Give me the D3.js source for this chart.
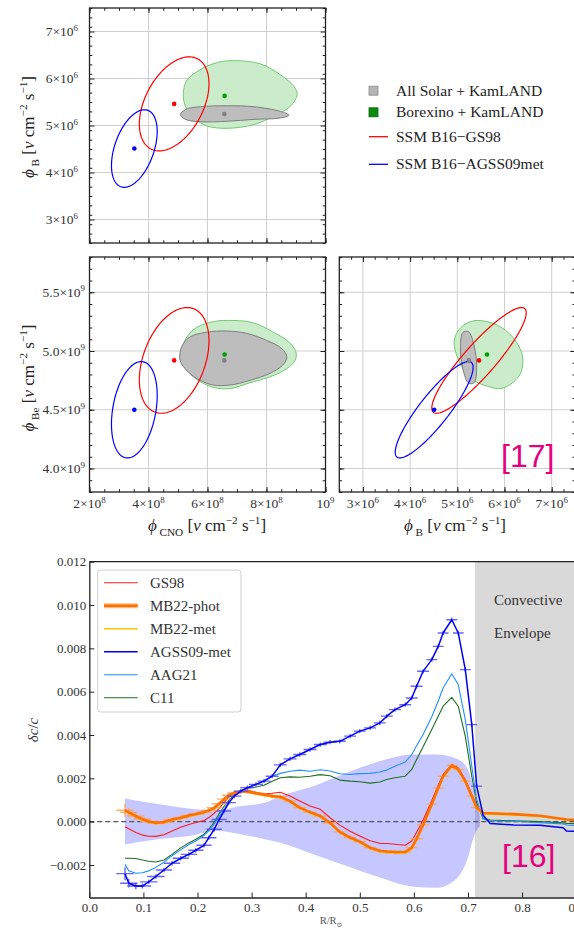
<!DOCTYPE html>
<html>
<head>
<meta charset="utf-8">
<script src="https://cdn.jsdelivr.net/npm/d3@7"></script>
<style>
  body { margin: 0; background: #fff; }
  svg { display: block; }
</style>
</head>
<body>
<svg id="chart" width="574" height="928"></svg>
<script>
// ---------------------------------------------------------------
// Solar neutrino fluxes: SSM predictions vs. global fits
// ---------------------------------------------------------------
const modelNames = ["SSM B16\u2212GS98", "SSM B16\u2212AGSS09met"];
const modelCNO = [4.87e8, 3.52e8];
const modelB = [5.46e6, 4.51e6];
const modelBe = [4.92e9, 4.50e9];
const modelSigCNO = [1.18e8, 0.775e8];
const modelSigB = [1.0e6, 0.825e6];
const modelSigBe = [0.45e9, 0.41e9];
const modelRhoCnoB = [0.43, 0.44];
const modelRhoCnoBe = [0.37, 0.30];
const modelRhoBBe = [0.90, 0.88];

const fitNames = ["All Solar + KamLAND", "Borexino + KamLAND"];
const fitCNO = [6.57e8, 6.58e8];
const fitB = [5.245e6, 5.63e6];
const fitBe = [4.92e9, 4.97e9];

// allowed regions, [CNO, B]
const allSolarCnoB = [[5.08e8,5.23e6],[5.25e8,5.34e6],[5.76e8,5.40e6],[6.67e8,5.42e6],[7.57e8,5.40e6],[8.47e8,5.30e6],[8.76e8,5.22e6],[8.47e8,5.16e6],[7.57e8,5.13e6],[6.67e8,5.09e6],[5.76e8,5.08e6],[5.25e8,5.13e6]];
const borexinoCnoB = [[5.18e8,5.69e6],[5.31e8,5.97e6],[5.76e8,6.19e6],[6.33e8,6.34e6],[6.89e8,6.38e6],[7.80e8,6.31e6],[8.47e8,6.08e6],[8.93e8,5.83e6],[9.04e8,5.66e6],[8.81e8,5.41e6],[8.25e8,5.20e6],[7.57e8,5.02e6],[6.67e8,4.94e6],[5.99e8,4.99e6],[5.54e8,5.16e6],[5.25e8,5.41e6]];
// allowed regions, [CNO, Be]
const allSolarCnoBe = [[5.07e8,4.92e9],[5.13e8,5.04e9],[5.41e8,5.12e9],[5.97e8,5.16e9],[6.65e8,5.17e9],[7.33e8,5.15e9],[8.01e8,5.09e9],[8.52e8,5.02e9],[8.69e8,4.95e9],[8.55e8,4.88e9],[8.12e8,4.81e9],[7.44e8,4.75e9],[6.76e8,4.71e9],[6.20e8,4.71e9],[5.75e8,4.75e9],[5.35e8,4.82e9]];
const borexinoCnoBe = [[5.13e8,5.01e9],[5.30e8,5.12e9],[5.63e8,5.20e9],[6.20e8,5.25e9],[6.87e8,5.26e9],[7.55e8,5.24e9],[8.23e8,5.16e9],[8.74e8,5.08e9],[9.00e8,4.99e9],[8.97e8,4.92e9],[8.69e8,4.85e9],[8.12e8,4.78e9],[7.44e8,4.73e9],[6.76e8,4.68e9],[6.20e8,4.69e9],[5.75e8,4.74e9],[5.35e8,4.82e9],[5.13e8,4.91e9]];
// allowed regions, [B, Be]
const allSolarBBe = [[5.41e6,4.863e9],[5.358e6,5.042e9],[5.238e6,5.164e9],[5.118e6,5.158e9],[5.068e6,5.027e9],[5.118e6,4.848e9],[5.238e6,4.726e9],[5.358e6,4.732e9]];
const borexinoBBe = [[4.93e6,5.07e9],[5.00e6,5.16e9],[5.17e6,5.23e9],[5.42e6,5.26e9],[5.85e6,5.22e9],[6.17e6,5.12e9],[6.34e6,5.01e9],[6.39e6,4.92e9],[6.34e6,4.81e9],[6.17e6,4.73e9],[5.92e6,4.68e9],[5.64e6,4.70e9],[5.35e6,4.75e9],[5.14e6,4.84e9],[5.00e6,4.95e9]];

const cnoTicks = [2e8, 4e8, 6e8, 8e8, 1e9];
const cnoTickLabels = ["2\u00d710^8", "4\u00d710^8", "6\u00d710^8", "8\u00d710^8", "10^9"];
const bTicks = [3e6, 4e6, 5e6, 6e6, 7e6];
const bTickLabels = ["3\u00d710^6", "4\u00d710^6", "5\u00d710^6", "6\u00d710^6", "7\u00d710^6"];
const beTicks = [4.0e9, 4.5e9, 5.0e9, 5.5e9];
const beTickLabels = ["4.0\u00d710^9", "4.5\u00d710^9", "5.0\u00d710^9", "5.5\u00d710^9"];

// ---------------------------------------------------------------
// Helioseismic sound-speed differences
// ---------------------------------------------------------------
const radius = [0.066,0.073,0.086,0.098,0.110,0.123,0.138,0.153,0.169,0.184,0.197,0.212,0.221,0.231,0.240,0.249,0.258,0.268,0.280,0.292,0.308,0.323,0.338,0.353,0.371,0.389,0.408,0.427,0.445,0.463,0.482,0.500,0.519,0.537,0.550,0.565,0.584,0.596,0.605,0.617,0.633,0.645,0.654,0.670,0.682,0.695,0.707,0.716,0.728,0.741,0.784,0.833,0.876,0.882,0.940,1.000];
const gs98 = [-0.00023,-0.00033,-0.00050,-0.00062,-0.00067,-0.00068,-0.00060,-0.00043,-0.00026,-0.00013,-0.00004,0.00005,0.00019,0.00039,0.00061,0.00088,0.00113,0.00131,0.00142,0.00146,0.00136,0.00128,0.00131,0.00136,0.00118,0.00095,0.00072,0.00057,0.00018,-0.00016,-0.00044,-0.00066,-0.00088,-0.00100,-0.00101,-0.00104,-0.00109,-0.00089,-0.00049,0.00008,0.00097,0.00168,0.00218,0.00264,0.00249,0.00195,0.00126,0.00072,0.00038,0.00036,0.00033,0.00026,0.00012,0.00010,0.00003,0.00000];
const mb22phot = [0.00053,0.00043,0.00026,0.00012,0.00001,-0.00005,-0.00002,0.00010,0.00018,0.00029,0.00035,0.00044,0.00052,0.00064,0.00083,0.00104,0.00122,0.00133,0.00139,0.00139,0.00131,0.00125,0.00118,0.00115,0.00095,0.00065,0.00044,0.00026,-0.00005,-0.00047,-0.00073,-0.00092,-0.00120,-0.00134,-0.00138,-0.00140,-0.00140,-0.00120,-0.00079,-0.00015,0.00081,0.00155,0.00210,0.00260,0.00241,0.00187,0.00118,0.00065,0.00040,0.00039,0.00035,0.00027,0.00012,0.00010,0.00004,0.00000];
const mb22met = [0.00048,0.00038,0.00021,0.00007,-0.00004,-0.00010,-0.00007,0.00005,0.00013,0.00024,0.00030,0.00039,0.00047,0.00059,0.00078,0.00099,0.00118,0.00130,0.00136,0.00136,0.00128,0.00121,0.00114,0.00110,0.00090,0.00060,0.00039,0.00021,-0.00010,-0.00052,-0.00078,-0.00097,-0.00125,-0.00140,-0.00144,-0.00146,-0.00146,-0.00127,-0.00086,-0.00020,0.00076,0.00150,0.00205,0.00254,0.00236,0.00182,0.00113,0.00060,0.00036,0.00035,0.00031,0.00024,0.00010,0.00008,0.00002,-0.00002];
const agss09met = [-0.00240,-0.00284,-0.00297,-0.00297,-0.00278,-0.00253,-0.00223,-0.00192,-0.00169,-0.00151,-0.00132,-0.00109,-0.00074,-0.00035,0.00010,0.00049,0.00088,0.00118,0.00141,0.00157,0.00172,0.00187,0.00210,0.00262,0.00290,0.00310,0.00333,0.00356,0.00367,0.00371,0.00395,0.00418,0.00433,0.00456,0.00487,0.00517,0.00540,0.00571,0.00625,0.00694,0.00748,0.00809,0.00871,0.00932,0.00871,0.00702,0.00448,0.00164,0.00030,-0.00008,-0.00015,-0.00017,-0.00028,-0.00043,-0.00046,-0.00050];
const aag21 = [-0.00197,-0.00227,-0.00238,-0.00236,-0.00227,-0.00211,-0.00187,-0.00157,-0.00130,-0.00105,-0.00089,-0.00063,-0.00042,-0.00010,0.00023,0.00057,0.00090,0.00118,0.00141,0.00155,0.00172,0.00190,0.00210,0.00223,0.00233,0.00238,0.00233,0.00240,0.00234,0.00221,0.00218,0.00222,0.00223,0.00229,0.00238,0.00256,0.00275,0.00310,0.00350,0.00402,0.00484,0.00557,0.00617,0.00683,0.00633,0.00471,0.00256,0.00103,0.00012,0.00003,0.00002,-0.00005,-0.00010,-0.00015,-0.00025,-0.00030];
const c11 = [-0.00169,-0.00169,-0.00170,-0.00177,-0.00183,-0.00186,-0.00177,-0.00151,-0.00121,-0.00098,-0.00081,-0.00058,-0.00035,-0.00002,0.00037,0.00070,0.00099,0.00126,0.00145,0.00153,0.00160,0.00168,0.00187,0.00203,0.00207,0.00205,0.00210,0.00217,0.00212,0.00192,0.00187,0.00184,0.00178,0.00183,0.00195,0.00203,0.00210,0.00241,0.00287,0.00346,0.00425,0.00487,0.00533,0.00574,0.00533,0.00394,0.00210,0.00088,0.00015,0.00008,0.00004,0.00000,-0.00005,-0.00008,-0.00012,-0.00015];
// inversion resolution (half-width in r) and error at each inverted point
const resHalfWidth = [0.016,0.016,0.016,0.016,0.016,0.016,0.015,0.015,0.015,0.015,0.014,0.014,0.014,0.014,0.014,0.013,0.013,0.013,0.013,0.013,0.013,0.012,0.012,0.012,0.012,0.012,0.012,0.012,0.012,0.011,0.011,0.011,0.011,0.011,0.011,0.011,0.011,0.011,0.011,0.011,0.010,0.010,0.010,0.010,0.010,0.010,0.010,0.010];
const invErr = [0.00030,0.00020,0.00015,0.00012,0.00010,0.00010,0.00010,0.00010,0.00010,0.00010,0.00010,0.00010,0.00010,0.00010,0.00010,0.00010,0.00010,0.00010,0.00010,0.00010,0.00010,0.00010,0.00010,0.00010,0.00010,0.00010,0.00010,0.00010,0.00010,0.00010,0.00010,0.00010,0.00010,0.00010,0.00010,0.00010,0.00010,0.00010,0.00010,0.00010,0.00010,0.00010,0.00010,0.00010,0.00010,0.00010,0.00010,0.00010];
// model uncertainty band
const bandR = [0.066,0.123,0.184,0.235,0.280,0.326,0.353,0.414,0.476,0.537,0.599,0.642,0.679,0.700,0.710,0.716,0.722];
const bandHi = [0.00107,0.00083,0.00061,0.00052,0.00072,0.00088,0.00118,0.00164,0.00226,0.00279,0.00310,0.00310,0.00290,0.00240,0.00160,0.00090,0.00025];
const bandLo = [-0.00105,-0.00082,-0.00066,-0.00043,-0.00058,-0.00082,-0.00097,-0.00150,-0.00205,-0.00258,-0.00300,-0.00305,-0.00262,-0.00165,-0.00075,-0.00040,-0.00020];
const convectiveBase = 0.713;
const soundTicksY = [-0.002, 0.000, 0.002, 0.004, 0.006, 0.008, 0.010, 0.012];
const soundTicksX = [0.0, 0.1, 0.2, 0.3, 0.4, 0.5, 0.6, 0.7, 0.8, 0.9];
const seriesNames = ["GS98", "MB22-phot", "MB22-met", "AGSS09-met", "AAG21", "C11"];

// ---------------------------------------------------------------
const svg = d3.select("#chart");
const serif = "'Liberation Serif','Times New Roman','DejaVu Serif',serif";
const sans = "'Liberation Sans',Arial,sans-serif";
const refColor = "#e5007e";

function richText(sel, parts, size) {
  let shift = 0;
  parts.forEach(([t, kind]) => {
    const target = kind === "sub" ? size * 0.3 : kind === "sup" ? -size * 0.4 : 0;
    sel.append("tspan")
      .attr("dy", (target - shift).toFixed(2))
      .attr("font-size", kind === "sub" || kind === "sup" ? size * 0.66 : size)
      .attr("font-style", kind === "i" ? "italic" : null)
      .text(t);
    shift = target;
  });
}
function powerLabel(g, x, y, label, anchor, size) {
  const [base, exp] = label.split("^");
  const t = g.append("text").attr("x", x).attr("y", y)
    .attr("text-anchor", anchor).attr("font-family", serif).attr("fill", "#333");
  richText(t, [[base, ""], [exp, "sup"]], size);
}
const fluxTitle = (sub) => [["\u03d5", "i"], [" " + sub, "sub"], [" [", ""], ["\u03bd", "i"], [" cm", ""], ["\u22122", "sup"], [" s", ""], ["\u22121", "sup"], ["]", ""]];

const flux = { cno: modelCNO, b: modelB, be: modelBe };
const sig = { cno: modelSigCNO, b: modelSigB, be: modelSigBe };
const rho = { "cno-b": modelRhoCnoB, "cno-be": modelRhoCnoBe, "b-be": modelRhoBBe };
const fitFlux = { cno: fitCNO, b: fitB, be: fitBe };
const modelColors = ["#ff0000", "#0000ff"];
const fitFill = ["#bdbdbd", "#cbeccb"];
const fitStroke = ["#7d7d7d", "#72c872"];
const fitDot = ["#808080", "#00a000"];

const panels = [
  { id: "tl", x0: 89.5, x1: 325.5, y0: 8, y1: 243, xDom: [2e8, 1e9], yDom: [2.5e6, 7.5e6],
    xk: "cno", yk: "b", xMinor: 0.5e8, yMinor: 0.2e6, xt: cnoTicks, yt: bTicks, xl: null, yl: bTickLabels, yLabelX: 78,
    regions: [borexinoCnoB, allSolarCnoB] },
  { id: "ml", x0: 89.5, x1: 325.5, y0: 257, y1: 492, xDom: [2e8, 1e9], yDom: [3.8e9, 5.8e9],
    xk: "cno", yk: "be", xMinor: 0.5e8, yMinor: 0.1e9, xt: cnoTicks, yt: beTicks, xl: cnoTickLabels, yl: beTickLabels, yLabelX: 85,
    regions: [borexinoCnoBe, allSolarCnoBe] },
  { id: "mr", x0: 339.3, x1: 575.3, y0: 257, y1: 492, xDom: [2.5e6, 7.5e6], yDom: [3.8e9, 5.8e9],
    xk: "b", yk: "be", xMinor: 0.25e6, yMinor: 0.1e9, xt: bTicks, yt: beTicks, xl: bTickLabels, yl: null,
    regions: [borexinoBBe, allSolarBBe] }
];

panels.forEach(p => {
  const x = d3.scaleLinear().domain(p.xDom).range([p.x0, p.x1]);
  const y = d3.scaleLinear().domain(p.yDom).range([p.y1, p.y0]);
  const g = svg.append("g");
  g.append("clipPath").attr("id", "clip-" + p.id).append("rect")
    .attr("x", p.x0).attr("y", p.y0).attr("width", p.x1 - p.x0).attr("height", p.y1 - p.y0);
  const body = g.append("g").attr("clip-path", `url(#clip-${p.id})`);

  // grid
  body.selectAll(".gx").data(p.xt).join("line")
    .attr("x1", d => x(d)).attr("x2", d => x(d)).attr("y1", p.y0).attr("y2", p.y1)
    .attr("stroke", "#cfcfcf").attr("stroke-width", 1);
  body.selectAll(".gy").data(p.yt).join("line")
    .attr("y1", d => y(d)).attr("y2", d => y(d)).attr("x1", p.x0).attr("x2", p.x1)
    .attr("stroke", "#cfcfcf").attr("stroke-width", 1);

  // fit regions: Borexino first, All Solar on top
  const closed = d3.line().x(d => x(d[0])).y(d => y(d[1])).curve(d3.curveCatmullRomClosed.alpha(0.5));
  p.regions.forEach((reg, k) => {
    const fi = 1 - k; // 1: Borexino, 0: All Solar
    body.append("path").attr("d", closed(reg))
      .attr("fill", fitFill[fi]).attr("stroke", fitStroke[fi]).attr("stroke-width", 1);
  });

  // model ellipses
  const r = rho[p.xk + "-" + p.yk];
  const lin = d3.line().x(d => x(d[0])).y(d => y(d[1])).curve(d3.curveLinearClosed);
  modelNames.forEach((m, i) => {
    const cx = flux[p.xk][i], cy = flux[p.yk][i], sx = sig[p.xk][i], sy = sig[p.yk][i];
    const k = Math.sqrt(1 - r[i] * r[i]);
    const pts = d3.range(0, 180).map(j => {
      const t = j / 180 * 2 * Math.PI;
      return [cx + sx * Math.cos(t), cy + sy * (r[i] * Math.cos(t) + k * Math.sin(t))];
    });
    body.append("path").attr("d", lin(pts)).attr("fill", "none")
      .attr("stroke", modelColors[i]).attr("stroke-width", 1.2);
  });

  // best-fit points and model centres
  fitNames.forEach((f, i) => {
    body.append("circle").attr("cx", x(fitFlux[p.xk][i])).attr("cy", y(fitFlux[p.yk][i]))
      .attr("r", 2.3).attr("fill", fitDot[i]);
  });
  modelNames.forEach((m, i) => {
    body.append("circle").attr("cx", x(flux[p.xk][i])).attr("cy", y(flux[p.yk][i]))
      .attr("r", 2.3).attr("fill", modelColors[i]);
  });

  // ticks on all four sides, pointing inward
  const tickSets = [
    [d3.axisBottom(x), `translate(0,${p.y1})`, p.xt, 5], [d3.axisBottom(x), `translate(0,${p.y1})`, d3.range(p.xDom[0], p.xDom[1] + 1, p.xMinor), 2.8],
    [d3.axisTop(x), `translate(0,${p.y0})`, p.xt, 5], [d3.axisTop(x), `translate(0,${p.y0})`, d3.range(p.xDom[0], p.xDom[1] + 1, p.xMinor), 2.8],
    [d3.axisLeft(y), `translate(${p.x0},0)`, p.yt, 5], [d3.axisLeft(y), `translate(${p.x0},0)`, d3.range(p.yDom[0], p.yDom[1] + 1, p.yMinor), 2.8],
    [d3.axisRight(y), `translate(${p.x1},0)`, p.yt, 5], [d3.axisRight(y), `translate(${p.x1},0)`, d3.range(p.yDom[0], p.yDom[1] + 1, p.yMinor), 2.8]
  ];
  tickSets.forEach(([ax, tr, vals, len]) => {
    const a = g.append("g").attr("transform", tr)
      .call(ax.tickValues(vals).tickSize(-len).tickSizeOuter(0).tickFormat(""));
    a.select(".domain").remove();
    a.selectAll("line").attr("stroke", "#222").attr("stroke-width", 1);
  });
  g.append("rect").attr("x", p.x0).attr("y", p.y0).attr("width", p.x1 - p.x0).attr("height", p.y1 - p.y0)
    .attr("fill", "none").attr("stroke", "#222").attr("stroke-width", 1.3);

  // tick labels
  if (p.yl) p.yt.forEach((v, i) => powerLabel(g, p.yLabelX, y(v) + 4.5, p.yl[i], "end", 13.5));
  if (p.xl) p.xt.forEach((v, i) => powerLabel(g, x(v), 508, p.xl[i], "middle", 13.5));
});

// axis titles
function title(x, y, rot, sub) {
  const t = svg.append("text").attr("text-anchor", "middle").attr("font-family", serif).attr("fill", "#222")
    .attr("transform", `translate(${x},${y}) rotate(${rot})`);
  richText(t, fluxTitle(sub), 17);
}
title(34, 127, -90, "B");
title(34, 378, -90, "Be");
title(207, 531, 0, "CNO");
title(455, 531, 0, "B");

// flux legend
const lg = svg.append("g").attr("font-family", serif).attr("font-size", 15.5).attr("fill", "#222");
const legendRows = [90.7, 112.3, 136.7, 164.3];
fitNames.forEach((f, i) => {
  lg.append("rect").attr("x", 369).attr("y", legendRows[i] - 4.5).attr("width", 9).attr("height", 9)
    .attr("fill", i === 0 ? "#b4b4b4" : "#0b8a0b").attr("stroke", i === 0 ? "#8a8a8a" : "#066406").attr("stroke-width", 0.8);
  lg.append("text").attr("x", 396).attr("y", legendRows[i] + 5).text(f);
});
modelNames.forEach((m, i) => {
  const yy = legendRows[2 + i];
  lg.append("line").attr("x1", 369).attr("x2", 388).attr("y1", yy).attr("y2", yy)
    .attr("stroke", modelColors[i]).attr("stroke-width", 1.3);
  lg.append("text").attr("x", 396).attr("y", yy + 5).text(m);
});

svg.append("text").attr("x", 501).attr("y", 466.5).attr("font-family", sans).attr("font-size", 32)
  .attr("fill", refColor).text("[17]");

// ---------------------------------------------------------------
// Sound-speed panel
// ---------------------------------------------------------------
const xR = d3.scaleLinear().domain([0, 1]).range([89.3, 630.3]);
const yD = d3.scaleLinear().domain([-0.0035, 0.012]).range([897.5, 561.7]);
const gS = svg.append("g");
gS.append("clipPath").attr("id", "clip-s").append("rect")
  .attr("x", xR(0)).attr("y", yD(0.012)).attr("width", xR(1) - xR(0)).attr("height", yD(-0.0035) - yD(0.012));
const plot = gS.append("g").attr("clip-path", "url(#clip-s)");

plot.append("rect").attr("x", xR(convectiveBase)).attr("y", yD(0.012))
  .attr("width", xR(1) - xR(convectiveBase)).attr("height", yD(-0.0035) - yD(0.012)).attr("fill", "#d9d9d9");

const band = d3.area().x((d, i) => xR(bandR[i])).y0((d, i) => yD(bandLo[i])).y1(d => yD(d)).curve(d3.curveMonotoneX);
plot.append("path").attr("d", band(bandHi)).attr("fill", "#0000ff").attr("fill-opacity", 0.22);

plot.append("line").attr("x1", xR(0)).attr("x2", xR(1)).attr("y1", yD(0)).attr("y2", yD(0))
  .attr("stroke", "#555").attr("stroke-width", 1.2).attr("stroke-dasharray", "5,3");

const seriesStyle = {
  "GS98": { color: "#ff1a1a", width: 1.1 },
  "MB22-phot": { color: "#ff7000", width: 2.6 },
  "MB22-met": { color: "#ffc400", width: 1.6 },
  "AGSS09-met": { color: "#0000f0", width: 1.5 },
  "AAG21": { color: "#1e90ff", width: 1.1 },
  "C11": { color: "#1f6f1f", width: 1.1 }
};
const seriesData = { "GS98": gs98, "MB22-phot": mb22phot, "MB22-met": mb22met, "AGSS09-met": agss09met, "AAG21": aag21, "C11": c11 };
const line = d3.line().x((d, i) => xR(radius[i])).y(d => yD(d));

function errorBars(values, color) {
  const eb = plot.append("g").attr("stroke", color).attr("stroke-width", 1.4).attr("stroke-opacity", 0.85);
  resHalfWidth.forEach((w, i) => {
    const r = radius[i], v = values[i];
    eb.append("line").attr("x1", xR(r - w)).attr("x2", xR(r + w)).attr("y1", yD(v)).attr("y2", yD(v));
    eb.append("line").attr("x1", xR(r)).attr("x2", xR(r)).attr("y1", yD(v - invErr[i])).attr("y2", yD(v + invErr[i]));
  });
}

["C11", "AAG21", "GS98", "MB22-met"].forEach(n => {
  plot.append("path").attr("d", line(seriesData[n])).attr("fill", "none")
    .attr("stroke", seriesStyle[n].color).attr("stroke-width", seriesStyle[n].width).attr("stroke-linejoin", "round");
});
errorBars(mb22phot, "#ffa04d");
plot.append("path").attr("d", line(mb22phot)).attr("fill", "none")
  .attr("stroke", seriesStyle["MB22-phot"].color).attr("stroke-width", seriesStyle["MB22-phot"].width).attr("stroke-linejoin", "round");
errorBars(agss09met, "#4a4aff");
plot.append("path").attr("d", line(agss09met)).attr("fill", "none")
  .attr("stroke", seriesStyle["AGSS09-met"].color).attr("stroke-width", seriesStyle["AGSS09-met"].width).attr("stroke-linejoin", "round");

// convective envelope label
const ce = plot.append("g").attr("font-family", serif).attr("font-size", 15).attr("fill", "#333");
ce.append("text").attr("x", 494).attr("y", 604.5).text("Convective");
ce.append("text").attr("x", 494).attr("y", 638).text("Envelope");
svg.append("text").attr("x", 502).attr("y", 866.5).attr("font-family", sans).attr("font-size", 32)
  .attr("fill", refColor).text("[16]");

// axes
const axB = gS.append("g").attr("transform", `translate(0,${yD(-0.0035)})`)
  .call(d3.axisBottom(xR).tickValues(soundTicksX).tickFormat(d3.format(".1f")).tickSize(-5).tickSizeOuter(0).tickPadding(5));
const axL = gS.append("g").attr("transform", `translate(${xR(0)},0)`)
  .call(d3.axisLeft(yD).tickValues(soundTicksY).tickFormat(d3.format(".3f")).tickSize(-5).tickSizeOuter(0).tickPadding(3));
[axB, axL].forEach(a => {
  a.selectAll("text").attr("font-family", serif).attr("font-size", 13).attr("fill", "#333");
  a.selectAll("line").attr("stroke", "#222");
  a.select(".domain").attr("stroke", "#222").attr("stroke-width", 1.3);
});
gS.append("line").attr("x1", xR(0)).attr("x2", xR(1)).attr("y1", yD(0.012)).attr("y2", yD(0.012))
  .attr("stroke", "#222").attr("stroke-width", 1.3);

const xt = gS.append("text").attr("x", 331).attr("y", 924).attr("text-anchor", "middle")
  .attr("font-family", serif).attr("font-size", 10.5).attr("fill", "#555");
richText(xt, [["R/R", ""], ["\u2299", "sub"]], 10.5);
const yt = gS.append("text").attr("text-anchor", "middle").attr("font-family", serif).attr("font-size", 15)
  .attr("fill", "#333").attr("transform", "translate(38,730) rotate(-90)");
richText(yt, [["\u03b4", "i"], ["c", "i"], ["/", ""], ["c", "i"]], 15);

// legend
const leg = gS.append("g").attr("font-family", serif).attr("font-size", 15).attr("fill", "#333");
leg.append("rect").attr("x", 97.7).attr("y", 570).attr("width", 143.3).attr("height", 142).attr("rx", 3)
  .attr("fill", "#fff").attr("fill-opacity", 0.85).attr("stroke", "#d0d0d0");
seriesNames.forEach((n, i) => {
  const yy = 582.7 + i * 23;
  if (n === "MB22-phot") {
    leg.append("line").attr("x1", 104).attr("x2", 137.7).attr("y1", yy).attr("y2", yy)
      .attr("stroke", "#ffa04d").attr("stroke-width", 5).attr("stroke-opacity", 0.7);
  }
  leg.append("line").attr("x1", 104).attr("x2", 137.7).attr("y1", yy).attr("y2", yy)
    .attr("stroke", seriesStyle[n].color).attr("stroke-width", Math.min(seriesStyle[n].width, 2.4));
  leg.append("text").attr("x", 150).attr("y", yy + 5).text(n);
});
</script>
</body>
</html>
